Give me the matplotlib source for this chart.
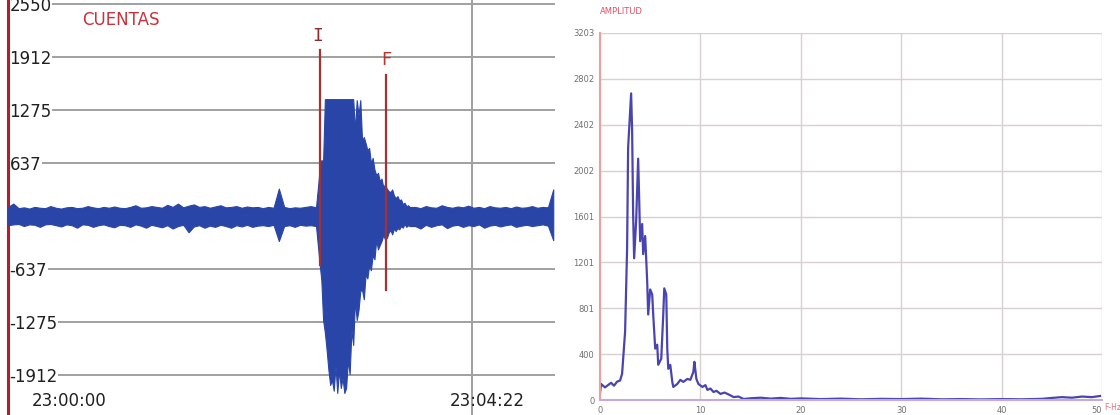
import numpy as np
import matplotlib
matplotlib.use("Agg")
import matplotlib.pyplot as plt

# ---- seismogram envelope (seconds after 23:00:00, counts) ----
t_pre = [0, 3, 6, 9, 12, 15, 18, 21, 24, 27, 30, 33, 36, 39, 42, 45, 48, 51, 54, 57,
         60, 63, 66, 69, 72, 75, 78, 81, 84, 87, 90, 93, 96, 99, 102, 105, 108, 111, 114, 117,
         120, 123, 126, 129, 132, 135, 138, 141, 144, 147, 150, 153, 156, 159, 162, 165, 168, 171, 174]
up_pre = [110, 150, 95, 105, 90, 110, 100, 95, 120, 100, 90, 105, 110, 95, 100, 120, 105, 95, 110, 100,
          115, 100, 95, 110, 130, 100, 105, 120, 110, 100, 135, 110, 150, 105, 125, 140, 110, 120, 100, 115,
          130, 105, 110, 120, 100, 115, 105, 110, 95, 110, 100, 330, 110, 95, 105, 100, 110, 120, 105]
lo_pre = [-110, -100, -95, -120, -100, -105, -130, -100, -95, -110, -125, -100, -110, -140, -100, -105, -130, -110, -100, -120,
          -135, -105, -110, -130, -100, -115, -140, -105, -120, -135, -110, -150, -120, -105, -195, -125, -110, -140, -115, -130,
          -105, -120, -140, -110, -125, -105, -130, -115, -110, -120, -105, -300, -120, -110, -130, -105, -115, -110, -120]

t_ev = [176, 177, 178, 179, 180, 181, 182, 183, 184, 185, 186, 187, 188, 189, 190, 191, 192, 193, 194, 195,
        196, 197, 198, 199, 200, 201, 202, 203, 204, 205, 206, 207, 208, 209, 210, 211, 212, 213, 214, 215,
        216, 217, 218, 219, 220, 221, 222, 223, 224, 225, 226, 227]
up_ev = [550, 673, 660, 1406, 1406, 1406, 1406, 1406, 1406, 1406, 1406, 1406, 1406, 1406, 1406, 1406, 1406, 1406, 1406, 1406,
         1034, 1394, 1214, 1394, 913, 950, 877, 793, 820, 637, 700, 560, 493, 520, 420, 450, 349, 380, 330, 300,
         288, 320, 250, 216, 240, 190, 200, 144, 160, 120, 130, 108]
lo_ev = [-565, -769, -1250, -1400, -1611, -1851, -2031, -1971, -2100, -1800, -2127, -1851, -2067, -1950, -2127, -2067, -1731, -1900, -1370, -1550,
         -1010, -1250, -1130, -900, -889, -1000, -700, -750, -589, -650, -469, -520, -288, -400, -349, -300, -228, -280, -264, -200,
         -168, -220, -150, -180, -144, -160, -120, -140, -96, -130, -110, -120]

t_post = [230, 233, 236, 239, 242, 245, 248, 251, 254, 257, 260, 263, 266, 269, 272, 275, 278, 281, 284, 287,
          290, 293, 296, 299, 302, 305, 308]
up_post = [110, 95, 120, 105, 100, 130, 110, 100, 115, 105, 125, 100, 110, 95, 120, 105, 100, 110, 95, 115,
           100, 105, 120, 100, 110, 105, 320]
lo_post = [-120, -150, -105, -130, -110, -100, -145, -115, -105, -130, -110, -120, -100, -140, -115, -105, -125, -110, -100, -130,
           -115, -105, -120, -110, -100, -115, -290]

count_ticks = [2550, 1912, 1275, 637, -637, -1275, -1912]
t_start, t_end = 176.2, 213.4   # I / F picks

# ---- spectrum ----
freq = [0.0, 0.1, 0.5, 0.8, 1.1, 1.4, 1.7, 2.0, 2.2, 2.5, 2.7, 2.8, 3.1, 3.2, 3.3, 3.4, 3.6, 3.8, 3.9, 4.0,
        4.2, 4.3, 4.5, 4.7, 4.8, 5.0, 5.2, 5.3, 5.5, 5.7, 5.8, 6.1, 6.3, 6.4, 6.6, 6.7, 6.8, 7.0, 7.2, 7.3,
        7.7, 8.0, 8.3, 8.7, 9.0, 9.3, 9.4, 9.6, 9.8, 10.2, 10.5, 10.7, 11.0, 11.3, 11.6, 12.0, 12.4, 12.7, 13.0, 13.3,
        13.8, 14.3, 15, 16, 17, 18, 19, 20, 22, 24, 26, 28, 30, 32, 34, 36, 38, 40, 42, 44,
        45, 46, 47, 48, 49, 49.8]
amp = [60, 140, 110, 130, 150, 125, 160, 170, 228, 597, 1325, 2200, 2676, 2352, 1623, 1237, 1562, 2106, 1764, 1386,
       1536, 1273, 1431, 1035, 746, 965, 921, 746, 448, 483, 307, 360, 746, 974, 921, 448, 272, 307, 158, 114,
       140, 176, 158, 184, 176, 246, 333, 184, 140, 114, 130, 88, 100, 70, 80, 53, 65, 53, 40, 26,
       30, 9, 15, 20, 12, 18, 10, 14, 8, 12, 6, 10, 8, 12, 6, 8, 5, 8, 6, 10,
       18, 25, 20, 30, 25, 35]
amp_ticks = [0, 400, 801, 1201, 1601, 2002, 2402, 2802, 3203]
freq_ticks = [0, 10, 20, 30, 40, 50]

W, H = 1120, 415
fig = plt.figure(figsize=(W / 100, H / 100), dpi=100)

# ================= left: seismogram =================
ax = fig.add_axes([8 / W, 0, (555 - 8) / W, 1])
t_all = t_pre + t_ev + t_post
up_all = up_pre + up_ev + up_post
lo_all = lo_pre + lo_ev + lo_post
ax.fill_between(t_all, lo_all, up_all, color='#2a45a8', lw=0.8, edgecolor='#2a45a8', zorder=3)
ax.set_xlim(0, 309)
ax.set_ylim(-2392, 2598)

ax.set_yticks(count_ticks)
ax.set_yticklabels([str(v) for v in count_ticks])
ax.tick_params(axis='y', length=0, pad=-1, labelsize=12, labelcolor='#202020')
for lab in ax.get_yticklabels():
    lab.set_horizontalalignment('left')
    lab.set_bbox(dict(facecolor='white', edgecolor='none', pad=0.5))
ax.set_xticks([262])
ax.tick_params(axis='x', length=0, labelbottom=False)
ax.grid(True, color='#a0a0a0', lw=1.4)
ax.set_axisbelow(True)
for s in ['top', 'right', 'bottom']:
    ax.spines[s].set_visible(False)
ax.spines['left'].set_color('#b0202c')
ax.spines['left'].set_linewidth(2.2)

# I / F markers
ax.plot([t_start, t_start], [1995, -589], color='#a83030', lw=1.6, zorder=4)
ax.plot([t_end, t_end], [1695, -889], color='#a83030', lw=1.6, zorder=4)
ax.text(t_start - 1.2, 2163, 'I', color='#8a2a2a', fontsize=13, family='DejaVu Sans Mono',
        ha='center', va='center')
ax.text(t_end + 0.5, 1875, 'F', color='#c03030', fontsize=13, family='DejaVu Sans',
        ha='center', va='center')

ax.text(74 / 547, 1 - 20 / H, 'CUENTAS', transform=ax.transAxes, color='#c8323c',
        fontsize=12, ha='left', va='center')
ax.text(61 / 547, 1 - 401 / H, '23:00:00', transform=ax.transAxes, color='#202020',
        fontsize=12, ha='center', va='center')
ax.text(479 / 547, 1 - 401 / H, '23:04:22', transform=ax.transAxes, color='#202020',
        fontsize=12, ha='center', va='center')

# ================= right: spectrum =================
ax2 = fig.add_axes([600 / W, (H - 400) / H, (1102 - 600) / W, (400 - 33) / H])
ax2.plot(freq, amp, color='#4a44b0', lw=1.6)
ax2.set_xlim(0, 50)
ax2.set_ylim(0, 3203)
ax2.set_yticks(amp_ticks)
ax2.set_xticks(freq_ticks)
ax2.tick_params(length=0, labelsize=6, labelcolor='#707070', pad=4)
ax2.get_xticklabels()[-1].set_horizontalalignment('right')
ax2.grid(True, color='#d8d0d0', lw=1.0)
ax2.set_axisbelow(True)
for s in ['top', 'right']:
    ax2.spines[s].set_visible(False)
ax2.spines['left'].set_color('#e8a0a0')
ax2.spines['left'].set_linewidth(1.5)
ax2.spines['bottom'].set_color('#c8a8d8')
ax2.spines['bottom'].set_linewidth(1.5)
fig.text(600 / W, 1 - 12 / H, 'AMPLITUD', color='#e05060', fontsize=6, ha='left', va='center')
fig.text(1104 / W, 1 - 407 / H, 'F-Hz', color='#e07080', fontsize=5.5, ha='left', va='center')

fig.savefig('out.png', dpi=100)
